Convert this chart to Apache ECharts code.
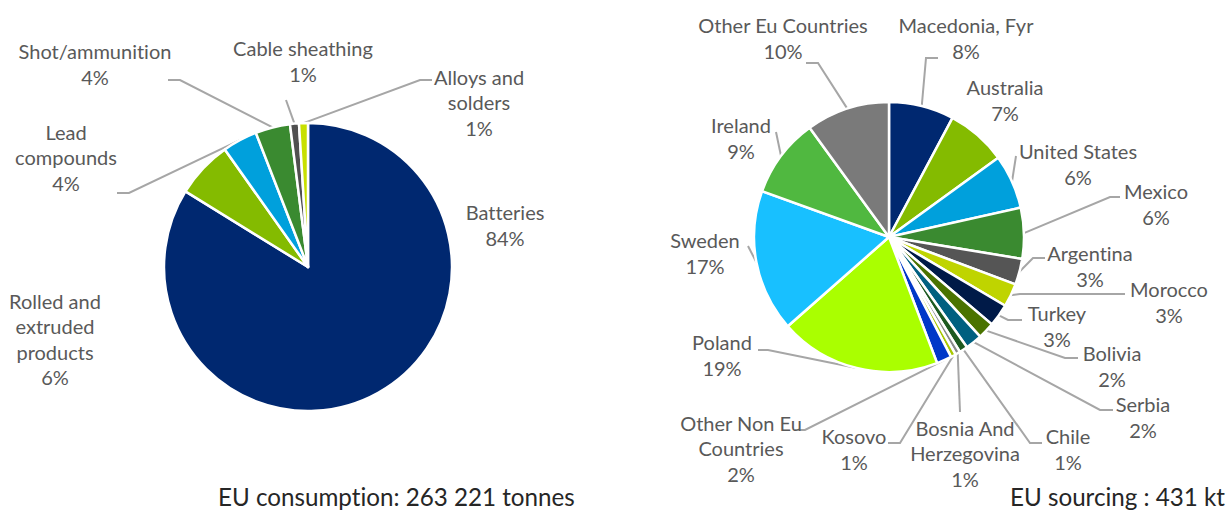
<!DOCTYPE html>
<html><head><meta charset="utf-8">
<script src="https://cdn.jsdelivr.net/npm/echarts@6/dist/echarts.min.js"></script>
<style>html,body{margin:0;padding:0;background:#fff}#c{width:1230px;height:513px}
#c text{font-variant-ligatures:none;font-feature-settings:"liga" 0,"clig" 0}</style>
</head><body><div id="c"></div>
<script>
// ---- data ----
const useCategories = ['Batteries', 'Rolled and\nextruded\nproducts', 'Lead\ncompounds', 'Shot/ammunition', 'Cable sheathing', 'Alloys and\nsolders'];
const useShares = [83.8, 6.4, 3.9, 3.9, 1.0, 1.0];
const sourceCountries = ['Macedonia, Fyr', 'Australia', 'United States', 'Mexico', 'Argentina', 'Morocco', 'Turkey', 'Bolivia', 'Serbia', 'Chile', 'Bosnia And\nHerzegovina', 'Kosovo', 'Other Non Eu\nCountries', 'Poland', 'Sweden', 'Ireland', 'Other Eu Countries'];
const sourceShares = [7.8, 7.2, 6.5, 6.1, 3.1, 2.8, 2.7, 2.0, 2.0, 1.0, 0.6, 0.6, 1.8, 19.3, 17.0, 9.5, 10.0];
const leftTitle = 'EU consumption: 263 221 tonnes';
const rightTitle = 'EU sourcing : 431 kt';

// ---- styles ----
const useColors = ['#002870', '#84bb00', '#00a0dc', '#3a8a30', '#505050', '#c8e000'];
const sourceColors = ['#002870', '#84bb00', '#00a0dc', '#3a8a30', '#555555', '#bfd400', '#001a48', '#4a7300', '#006080', '#1e5a20', '#8a8a8a', '#a8c800', '#0038c8', '#aaff00', '#18c0ff', '#50b840', '#7a7a7a'];

// label placement (text block centre + leader line bends)
const useLabelPos = [
  {x: 505, y: 225},
  {x: 55, y: 339},
  {x: 66, y: 157, line: [[129, 193], [117, 193]]},
  {x: 95, y: 64, line: [[180, 80], [168, 80]]},
  {x: 303, y: 61, line: [[286, 100]]},
  {x: 479, y: 102, line: [[420, 80], [432, 80]]}
];
const sourceLabelPos = [
  {x: 966, y: 38, line: [[926, 58], [938, 58]]},
  {x: 1005, y: 100},
  {x: 1078, y: 164, line: [[1016, 156]]},
  {x: 1156, y: 204, line: [[1110, 197], [1120, 197]]},
  {x: 1090, y: 266, line: [[1033, 258], [1045, 258]]},
  {x: 1169, y: 302, line: [[1020, 294], [1125, 294]]},
  {x: 1057, y: 326, line: [[1008, 320], [1022, 320]]},
  {x: 1112, y: 366, line: [[1065, 358], [1078, 358]]},
  {x: 1143, y: 417, line: [[1100, 410], [1113, 410]]},
  {x: 1068, y: 449, line: [[1030, 443], [1042, 443]]},
  {x: 965, y: 453, line: [[960, 412]]},
  {x: 854, y: 449, line: [[900, 443], [888, 443]]},
  {x: 741, y: 448, line: [[805, 430], [795, 430]]},
  {x: 722, y: 355, line: [[768, 350], [758, 350]]},
  {x: 705, y: 253, line: [[748, 246]]},
  {x: 741, y: 138, line: [[776, 132]]},
  {x: 783, y: 38, line: [[818, 63], [806, 63]]}
];

const FONT = 'Lato';
const labelStyle = {fontFamily: FONT, fontSize: 20, lineHeight: 25.5, color: '#595959'};
const titleStyle = {fontFamily: FONT, fontSize: 24.2, lineHeight: 24, fontWeight: 'normal', color: '#262626'};

function makeLayout(pos) {
  return function (p) {
    const q = pos[p.dataIndex];
    const r = {x: q.x, y: q.y, align: 'center', verticalAlign: 'middle'};
    if (q.line && p.labelLinePoints) {
      r.labelLinePoints = [p.labelLinePoints[0]].concat(q.line);
    }
    return r;
  };
}
function buildData(names, vals, colors, pos) {
  return names.map((n, i) => ({
    name: n, value: vals[i],
    itemStyle: {color: colors[i]},
    labelLine: {show: !!pos[i].line}
  }));
}

const chart = echarts.init(document.getElementById('c'), null, {renderer: 'svg'});
chart.setOption({
  backgroundColor: '#ffffff',
  animation: false,
  title: [
    {text: leftTitle, left: 218, top: 484, padding: 0, textStyle: titleStyle},
    {text: rightTitle, left: 1010, top: 484, padding: 0, textStyle: titleStyle}
  ],
  series: [
    {
      type: 'pie', center: [308, 267], radius: 144, startAngle: 90, clockwise: true,
      avoidLabelOverlap: false, percentPrecision: 0,
      itemStyle: {borderColor: '#ffffff', borderWidth: 2.5},
      label: Object.assign({show: true, position: 'outside', formatter: '{b}\n{d}%'}, labelStyle),
      labelLine: {show: true, length: 10, length2: 10, smooth: false, lineStyle: {color: '#a6a6a6', width: 2}},
      labelLayout: makeLayout(useLabelPos),
      emphasis: {disabled: true},
      data: buildData(useCategories, useShares, useColors, useLabelPos)
    },
    {
      type: 'pie', center: [889, 237], radius: 135, startAngle: 90, clockwise: true,
      avoidLabelOverlap: false, percentPrecision: 0,
      itemStyle: {borderColor: '#ffffff', borderWidth: 2.5},
      label: Object.assign({show: true, position: 'outside', formatter: '{b}\n{d}%'}, labelStyle),
      labelLine: {show: true, length: 10, length2: 10, smooth: false, lineStyle: {color: '#a6a6a6', width: 2}},
      labelLayout: makeLayout(sourceLabelPos),
      emphasis: {disabled: true},
      data: buildData(sourceCountries, sourceShares, sourceColors, sourceLabelPos)
    }
  ]
});
</script></body></html>
